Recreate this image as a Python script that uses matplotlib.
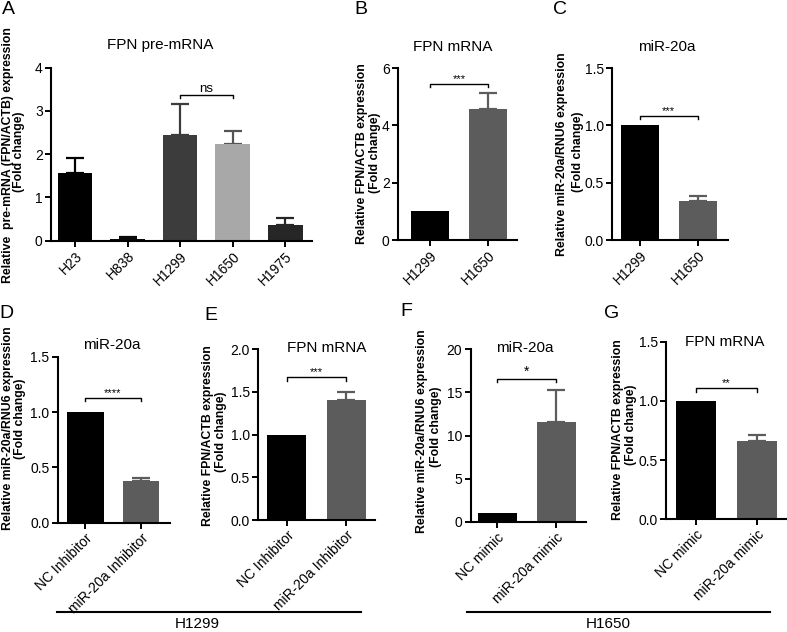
import matplotlib
matplotlib.use("Agg")
import matplotlib.pyplot as plt
import numpy as np

plt.rcParams['font.family'] = ['Liberation Sans', 'DejaVu Sans']

W, H = 787, 632

# ---------------- data ----------------
A_cats = ['H23', 'H838', 'H1299', 'H1650', 'H1975']
A_vals = [1.57, 0.04, 2.45, 2.24, 0.37]
A_err = [0.34, 0.04, 0.70, 0.29, 0.16]
A_colors = ['#000000', '#0a0a0a', '#3c3c3c', '#a8a8a8', '#262626']
A_ecolors = ['#000000', '#0a0a0a', '#3c3c3c', '#555555', '#262626']

B_cats = ['H1299', 'H1650']
B_vals = [1.0, 4.57]
B_err = [0.0, 0.55]

C_cats = ['H1299', 'H1650']
C_vals = [1.0, 0.34]
C_err = [0.0, 0.045]

D_cats = ['NC Inhibitor', 'miR-20a Inhibitor']
D_vals = [1.0, 0.38]
D_err = [0.0, 0.025]

E_cats = ['NC Inhibitor', 'miR-20a Inhibitor']
E_vals = [1.0, 1.41]
E_err = [0.0, 0.09]

F_cats = ['NC mimic', 'miR-20a mimic']
F_vals = [1.0, 11.55]
F_err = [0.0, 3.75]

G_cats = ['NC mimic', 'miR-20a mimic']
G_vals = [1.0, 0.665]
G_err = [0.0, 0.045]

two_colors = ['#000000', '#5c5c5c']

fig = plt.figure(figsize=(W / 100, H / 100), dpi=100)


def px_axes(left, right, top, bottom):
    return fig.add_axes([left / W, 1 - bottom / H, (right - left) / W, (bottom - top) / H])


def ftext(x, y, s, **kw):
    fig.text(x / W, 1 - y / H, s, **kw)


def panel(box, cats, vals, errs, colors, ecolors, ylim, yticks, fmt, xlim,
          bracket, sig, sigsize, tsize=10):
    ax = px_axes(*box)
    x = np.arange(len(cats))
    ax.bar(x, vals, width=0.66, color=colors, zorder=2)
    for xi, v, e, ec in zip(x, vals, errs, ecolors):
        if e > 0:
            ax.errorbar([xi], [v], yerr=[[0], [e]], fmt='none', ecolor=ec,
                        elinewidth=1.6, capsize=6.5, capthick=1.6, zorder=1)
    ax.set_xlim(*xlim)
    ax.set_ylim(*ylim)
    ax.set_yticks(yticks)
    ax.set_yticklabels([fmt.format(t) for t in yticks], fontsize=tsize)
    ax.set_xticks(x)
    ax.set_xticklabels(cats, rotation=45, ha='right', rotation_mode='anchor',
                       fontsize=tsize)
    for s in ['top', 'right']:
        ax.spines[s].set_visible(False)
    for s in ['left', 'bottom']:
        ax.spines[s].set_linewidth(1.5)
    ax.tick_params(axis='both', direction='out', length=4, width=1.4, pad=2)
    # significance bracket
    i0, i1, yb, drop = bracket
    ax.plot([i0, i0, i1, i1], [yb - drop, yb, yb, yb - drop], color='black',
            lw=1.0, clip_on=False)
    ax.text((i0 + i1) / 2, yb, sig, ha='center', va='bottom',
            fontsize=sigsize)
    return ax


# Panel A
panel((51, 312, 67.7, 240.7), A_cats, A_vals, A_err, A_colors, A_ecolors,
      (0, 4), [0, 1, 2, 3, 4], '{:.0f}', (-0.457, 4.51),
      (2, 3, 3.37, 0.08), 'ns', 9.5)
# Panel B
panel((398, 517, 68, 240), B_cats, B_vals, B_err, two_colors, two_colors,
      (0, 6), [0, 2, 4, 6], '{:.0f}', (-0.55, 1.5),
      (0, 1, 5.43, 0.1), '***', 8)
# Panel C
panel((612, 728, 68, 240), C_cats, C_vals, C_err, two_colors, two_colors,
      (0, 1.5), [0, 0.5, 1.0, 1.5], '{:.1f}', (-0.48, 1.52),
      (0, 1, 1.08, 0.025), '***', 8)
# Panel D
panel((57.7, 170, 356.7, 522.7), D_cats, D_vals, D_err, two_colors, two_colors,
      (0, 1.5), [0, 0.5, 1.0, 1.5], '{:.1f}', (-0.49, 1.52),
      (0, 1, 1.13, 0.03), '****', 8)
# Panel E
panel((258, 375, 349.3, 520), E_cats, E_vals, E_err, two_colors, two_colors,
      (0, 2.0), [0, 0.5, 1.0, 1.5, 2.0], '{:.1f}', (-0.49, 1.49),
      (0, 1, 1.67, 0.04), '***', 8)
# Panel F
panel((470.7, 585.7, 349.3, 521.7), F_cats, F_vals, F_err, two_colors, two_colors,
      (0, 20), [0, 5, 10, 15, 20], '{:.0f}', (-0.45, 1.5),
      (0, 1, 16.55, 0.35), '*', 10)
# Panel G
panel((666, 785.7, 341.7, 519.3), G_cats, G_vals, G_err, two_colors, two_colors,
      (0, 1.5), [0, 0.5, 1.0, 1.5], '{:.1f}', (-0.49, 1.47),
      (0, 1, 1.107, 0.03), '**', 8)

# titles
tkw = dict(ha='center', va='center', fontsize=11)
ftext(160, 45, 'FPN pre-mRNA', **tkw)
ftext(453, 47, 'FPN mRNA', **tkw)
ftext(667, 47, 'miR-20a', **tkw)
ftext(112, 345, 'miR-20a', **tkw)
ftext(327, 348, 'FPN mRNA', **tkw)
ftext(525, 348, 'miR-20a', **tkw)
ftext(725, 342, 'FPN mRNA', **tkw)

# panel letters
lkw = dict(ha='center', va='center', fontsize=14)
for (lx, ly, L) in [(8, 9, 'A'), (361, 10, 'B'), (560, 10, 'C'), (6, 314, 'D'),
                    (211, 315, 'E'), (406, 312, 'F'), (612, 313, 'G')]:
    ftext(lx, ly, L, **lkw)

# y labels (two lines each)
ykw = dict(ha='center', va='center', rotation=90, fontsize=8.8, fontweight='bold')
ylabels = [
    (8, 155, 19, 152, 'Relative  pre-mRNA (FPN/ACTB) expression'),
    (362, 154, 375, 153, 'Relative FPN/ACTB expression'),
    (562, 154, 578, 152, 'Relative miR-20a/RNU6 expression'),
    (8, 428, 20, 419, 'Relative miR-20a/RNU6 expression'),
    (208, 436, 221, 432, 'Relative FPN/ACTB expression'),
    (422, 431, 436, 427, 'Relative miR-20a/RNU6 expression'),
    (618, 430, 631, 425, 'Relative FPN/ACTB expression'),
]
for x1, y1, x2, y2, s in ylabels:
    ftext(x1, y1, s, **ykw)
    ftext(x2, y2, '(Fold change)', **ykw)

# group lines
for (xa, xb, xt, label) in [(57, 361, 197, 'H1299'), (467, 770, 608, 'H1650')]:
    fig.add_artist(plt.Line2D([xa / W, xb / W], [1 - 612 / H, 1 - 612 / H],
                              color='black', lw=1.5, transform=fig.transFigure))
    ftext(xt, 624, label, ha='center', va='center', fontsize=11)

fig.savefig('out.png', dpi=100)
